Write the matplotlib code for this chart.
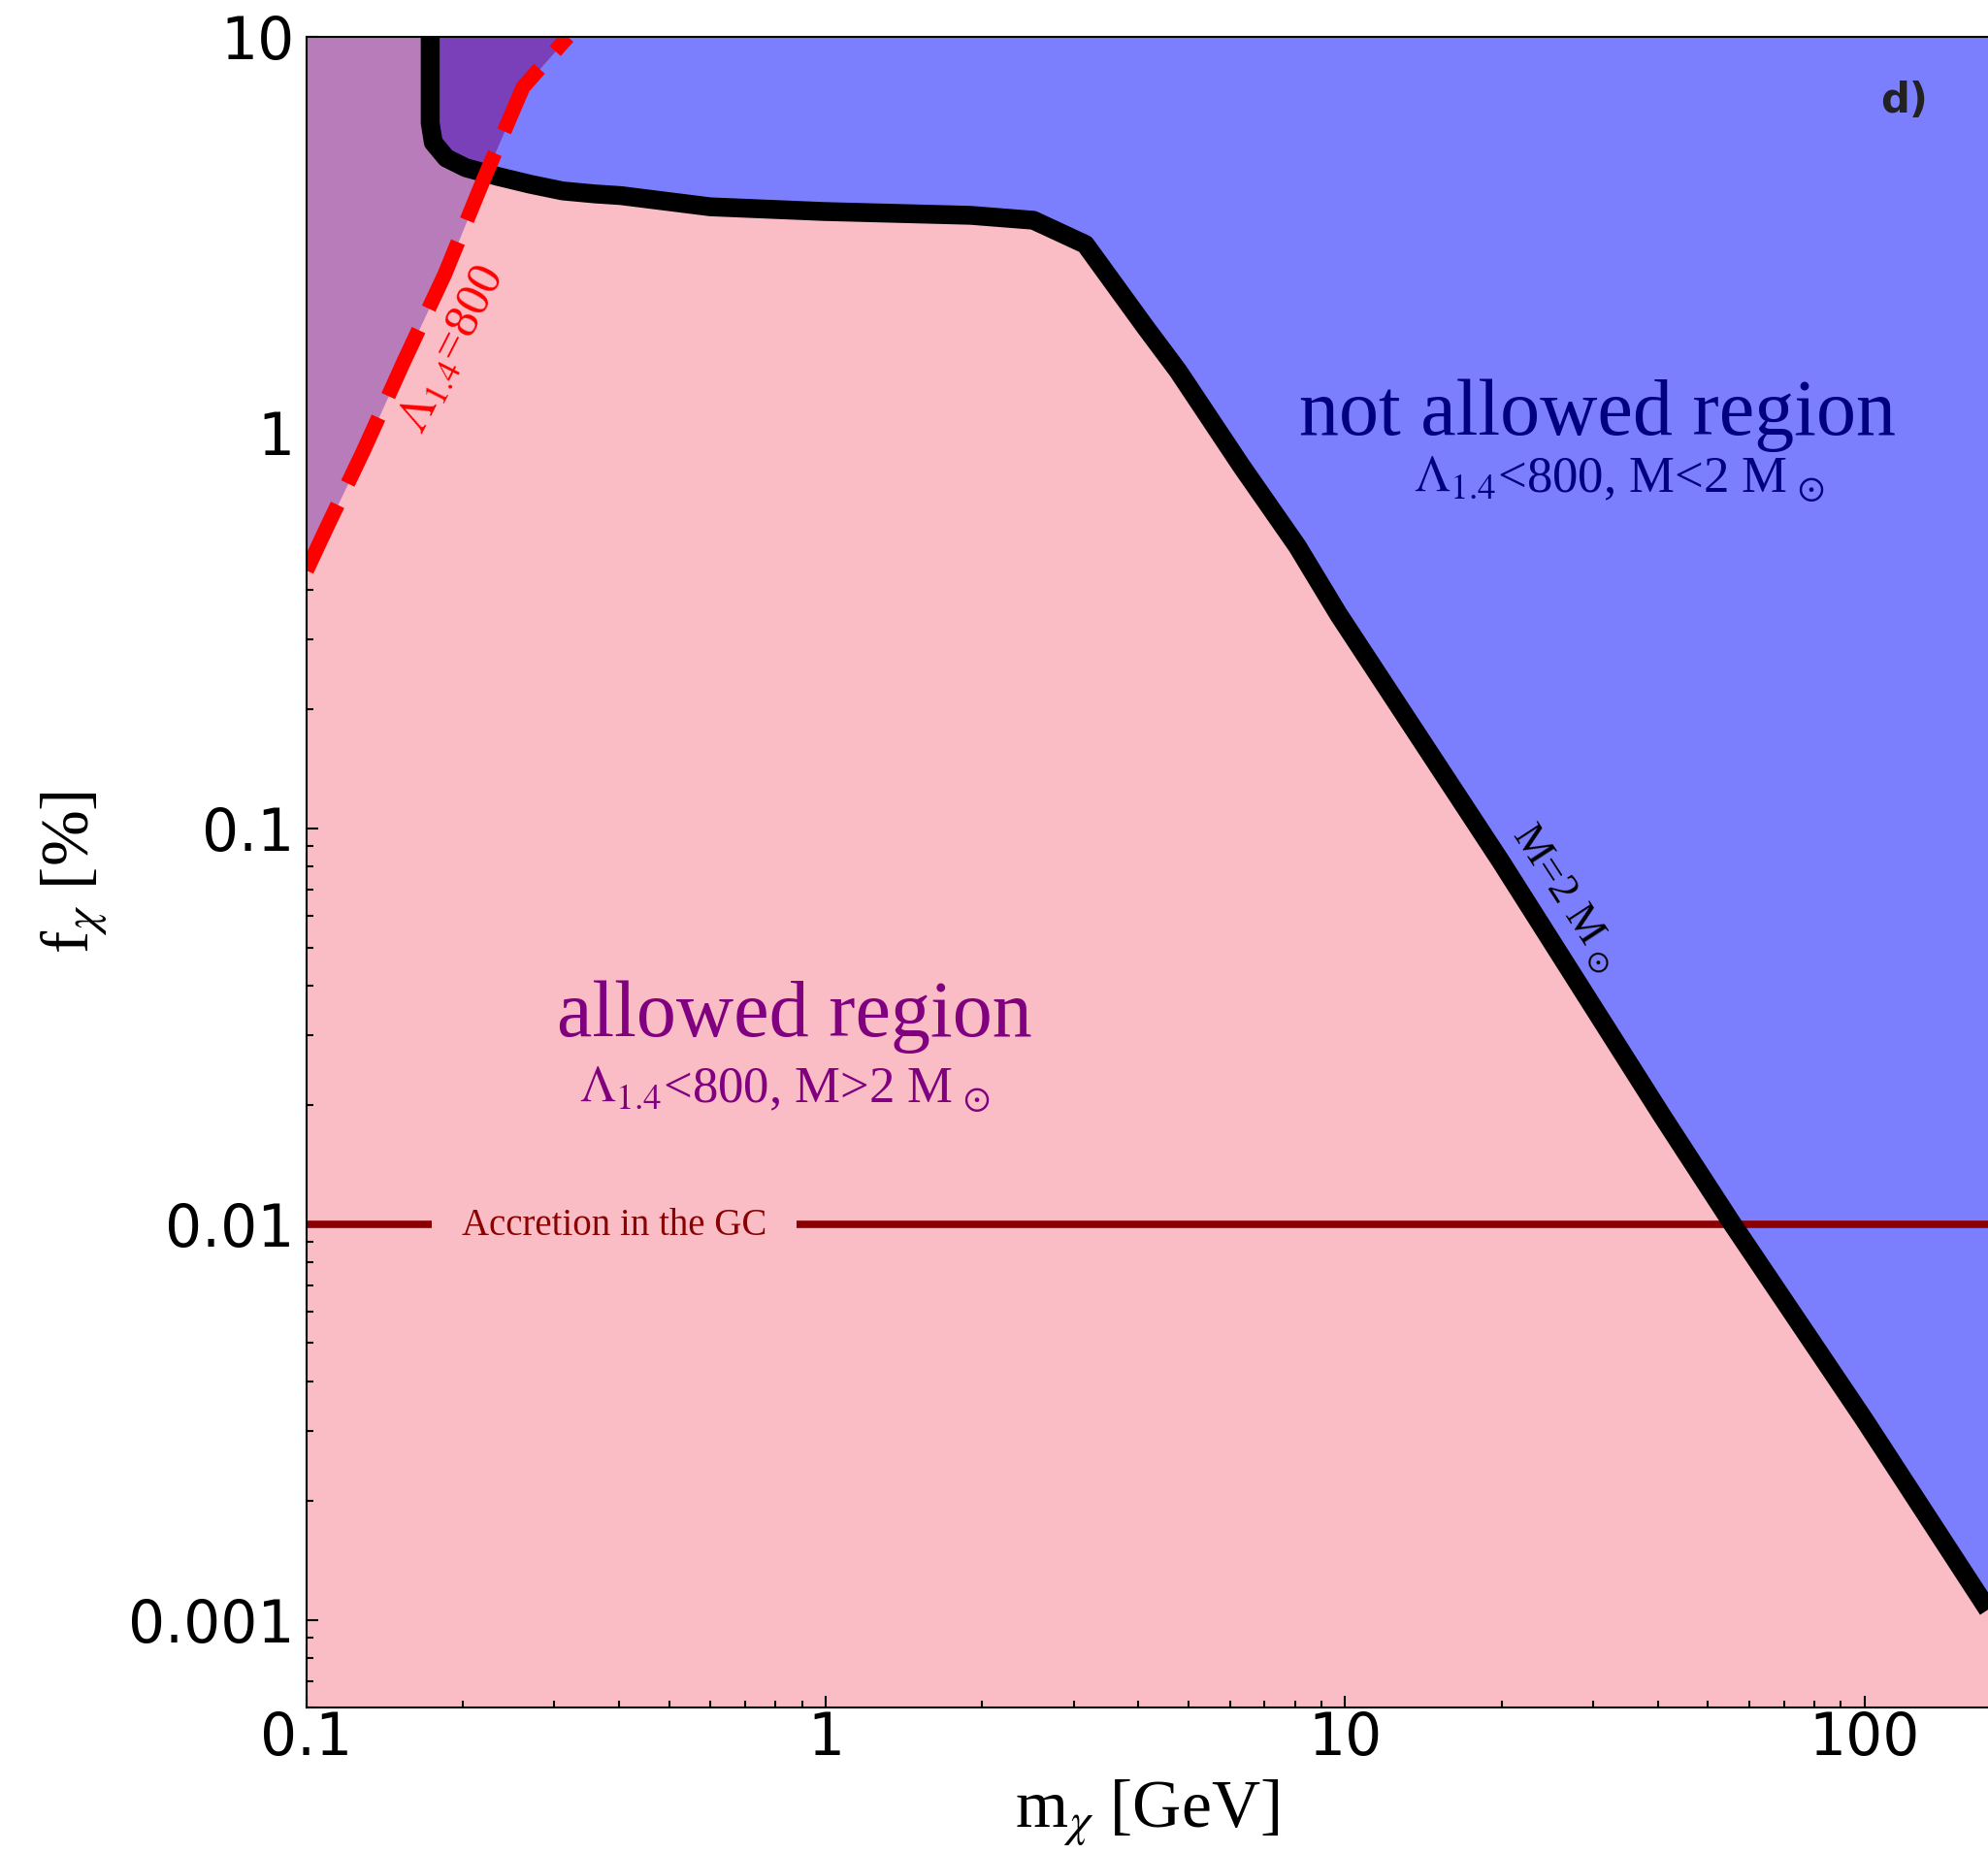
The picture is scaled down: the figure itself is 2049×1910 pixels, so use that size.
import matplotlib
matplotlib.use("Agg")
import matplotlib.pyplot as plt
from matplotlib.ticker import NullFormatter, LogLocator

plt.rcParams['mathtext.fontset'] = 'stix'

# M = 2 M_sun contour: dark matter particle mass [GeV] vs fraction [%]
mass_curve_m = [0.173, 0.173, 0.1754, 0.1858, 0.2025, 0.2334, 0.270, 0.3114, 0.359,
                0.4033, 0.599, 0.99, 1.90, 2.51, 3.16, 4.12, 4.77, 6.31, 8.09, 9.70,
                20.0, 40.8, 55.7, 100.0, 173.0]
mass_curve_f = [10.0, 6.06, 5.41, 4.94, 4.67, 4.44, 4.24, 4.08, 4.01,
                3.97, 3.72, 3.62, 3.54, 3.44, 2.99, 1.85, 1.43, 0.824, 0.516, 0.348,
                0.082, 0.01875, 0.0100, 0.0032, 0.00106]

# Lambda_1.4 = 800 contour
tidal_curve_m = [0.1, 0.1093, 0.1284, 0.1542, 0.1845, 0.2192, 0.2611, 0.3185]
tidal_curve_f = [0.448, 0.575, 0.894, 1.52, 2.51, 4.36, 7.46, 10.0]

# accretion limit in the Galactic Centre
gc_accretion_f = 0.01

x_ticks = [0.1, 1, 10, 100]
x_tick_labels = ['0.1', '1', '10', '100']
y_ticks = [0.001, 0.01, 0.1, 1, 10]
y_tick_labels = ['0.001', '0.01', '0.1', '1', '10']

PINK = '#FBBDC5'
BLUE = '#7B7FFE'
LIGHT_PURPLE = '#B97CBA'
DARK_PURPLE = '#7940B9'
SERIF = 'Liberation Serif'

fig = plt.figure(figsize=(20.49, 19.10), dpi=100)
ax = fig.add_axes([316 / 2049, 1 - 1760 / 1910, 1 - 316 / 2049, (1760 - 38) / 1910])
ax.set_xscale('log')
ax.set_yscale('log')
ax.set_xlim(0.1, 173)
ax.set_ylim(6e-4, 10)
ax.set_facecolor(PINK)

# regions
not_allowed = ax.fill_between(mass_curve_m, mass_curve_f, 10, color=BLUE, lw=0, zorder=1)
ax.fill_betweenx(tidal_curve_f, 0.1, tidal_curve_m, color=LIGHT_PURPLE, lw=0, zorder=2)
overlap = ax.fill_betweenx(tidal_curve_f, 0.1, tidal_curve_m, color=DARK_PURPLE, lw=0, zorder=3)
overlap.set_clip_path(not_allowed.get_paths()[0], ax.transData)

# contours
ax.axhline(gc_accretion_f, color='#8B0000', lw=5.5, zorder=4)
ax.plot(mass_curve_m, mass_curve_f, color='black', lw=14, zorder=6,
        solid_joinstyle='round', solid_capstyle='butt')
ax.plot(tidal_curve_m, tidal_curve_f, color='red', lw=11, ls=(0, (4.9, 1.6)),
        dash_capstyle='butt', zorder=7)

# labels on the plot
ax.text(0.391, 0.0094, 'Accretion in the GC', color='#8B0000', fontsize=28,
        family=SERIF, ha='center', va='baseline', zorder=5,
        bbox=dict(boxstyle='square,pad=0.8', fc=PINK, ec='none'))
ax.text(0.19, 1.62, r'$\Lambda_{1.4}$=800', color='red', fontsize=36, family=SERIF,
        rotation=63, ha='center', va='center', rotation_mode='anchor', zorder=8)
ax.text(26.6, 0.0668, r'M=2 M$_{\,\odot}$', color='black', fontsize=32, family=SERIF,
        rotation=-57, ha='center', va='center', rotation_mode='anchor', zorder=8)

ax.text(30.6, 0.99, 'not allowed region', color='#000080', fontsize=59, family=SERIF,
        ha='center', va='baseline', zorder=8)
ax.text(33.7, 0.704, r'$\Lambda_{1.4}$<800, M<2 M$_{\,\odot}$', color='#000080',
        fontsize=38, family=SERIF, ha='center', va='baseline', zorder=8)
ax.text(0.869, 0.0298, 'allowed region', color='#800080', fontsize=59, family=SERIF,
        ha='center', va='baseline', zorder=8)
ax.text(0.835, 0.0202, r'$\Lambda_{1.4}$<800, M>2 M$_{\,\odot}$', color='#800080',
        fontsize=38, family=SERIF, ha='center', va='baseline', zorder=8)

ax.text(0.95, 0.9617, 'd)', transform=ax.transAxes, fontsize=30, fontweight='bold',
        color='#222222', ha='center', va='center', zorder=8)

# axes
ax.set_xticks(x_ticks, labels=x_tick_labels)
ax.set_yticks(y_ticks, labels=y_tick_labels)
ax.xaxis.set_minor_locator(LogLocator(base=10, subs=range(2, 10)))
ax.yaxis.set_minor_locator(LogLocator(base=10, subs=range(2, 10)))
ax.xaxis.set_minor_formatter(NullFormatter())
ax.yaxis.set_minor_formatter(NullFormatter())
ax.tick_params(which='both', direction='in', top=False, right=False, width=1.5)
ax.tick_params(which='major', length=8.6, labelsize=43)
ax.tick_params(which='minor', length=5)
ax.tick_params(axis='y', which='major', pad=9)
ax.tick_params(axis='x', which='major', pad=2)

ax.spines['right'].set_visible(False)
for side in ['left', 'bottom', 'top']:
    ax.spines[side].set_linewidth(1.5)
    ax.spines[side].set_zorder(10)

ax.set_xlabel(r'm$_\chi$ [GeV]', fontsize=50, family=SERIF, labelpad=8)
ax.set_ylabel(r'f$_\chi$ [%]', fontsize=50, family=SERIF, labelpad=14)

fig.savefig('out.png', dpi=100)
